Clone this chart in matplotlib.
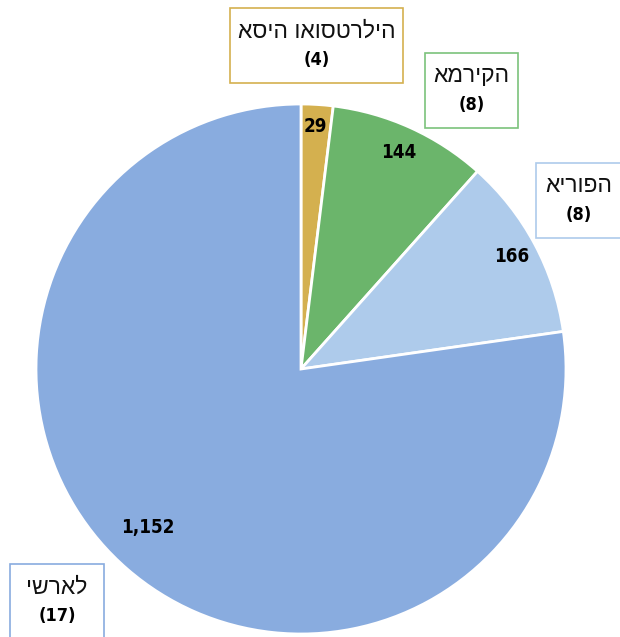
import numpy as np
import matplotlib.pyplot as plt
from matplotlib.patches import Rectangle

# Data (clockwise from 12 o'clock)
regions = ['אסיה ואוסטרליה', 'אמריקה', 'אירופה', 'ישראל']
counts = [29, 144, 166, 1152]
n_items = [4, 8, 8, 17]
colors = ['#D4B04F', '#6BB56B', '#AECBEB', '#89ACDF']

W, H, DPI = 620, 637, 100
cx, cy, R = 301, 369, 265

# label boxes in picture pixels: left, top, width, height
box_px = [(230, 8, 173, 75),
          (425, 53, 93, 75),
          (536, 163, 86, 75),
          (10, 564, 94, 78)]
box_edges = ['#D4B04F', '#7CC27C', '#AECBEB', '#89ACDF']
num_radius = [0.915, 0.897, 0.9, 0.83]


def px(x, y):
    """picture pixels -> pie data coords (radius 1)"""
    return (x - cx) / R, (cy - y) / R


fig = plt.figure(figsize=(W / DPI, H / DPI), dpi=DPI)
ax = fig.add_axes([(cx - R) / W, (H - cy - R) / H, 2 * R / W, 2 * R / H])

wedges, _ = ax.pie(counts, colors=colors, startangle=90, counterclock=False,
                   radius=1, wedgeprops=dict(edgecolor='white', linewidth=2))
ax.set_xlim(-1, 1)
ax.set_ylim(-1, 1)
ax.set_aspect('auto')
ax.axis('off')

num_kw = dict(fontweight='bold', family='DejaVu Sans', fontstretch='condensed', color='black')
heb_font = ['Liberation Sans', 'DejaVu Sans']

for w, v, r in zip(wedges, counts, num_radius):
    ang = np.deg2rad((w.theta1 + w.theta2) / 2)
    if v == 1152:
        ang = np.deg2rad(-134)
    ax.text(r * np.cos(ang), r * np.sin(ang), f'{v:,}', ha='center', va='center',
            fontsize=13.5, **num_kw)

for name, n, (bl, bt, bw, bh), ec in zip(regions, n_items, box_px, box_edges):
    x0, y1 = px(bl, bt)
    x1, y0 = px(bl + bw, bt + bh)
    ax.add_patch(Rectangle((x0, y0), x1 - x0, y1 - y0, facecolor='white',
                           edgecolor=ec, linewidth=1.2, clip_on=False, zorder=3))
    tx, ty = px(bl + bw / 2, bt + 23)
    ax.text(tx, ty, name, ha='center', va='center', fontsize=16.5,
            family=heb_font, color='#111111', zorder=4, clip_on=False)
    tx, ty = px(bl + bw / 2, bt + 52)
    ax.text(tx, ty, f'({n})', ha='center', va='center', fontsize=13,
            zorder=4, clip_on=False, **num_kw)

fig.savefig('out.png', dpi=DPI, facecolor='white')
